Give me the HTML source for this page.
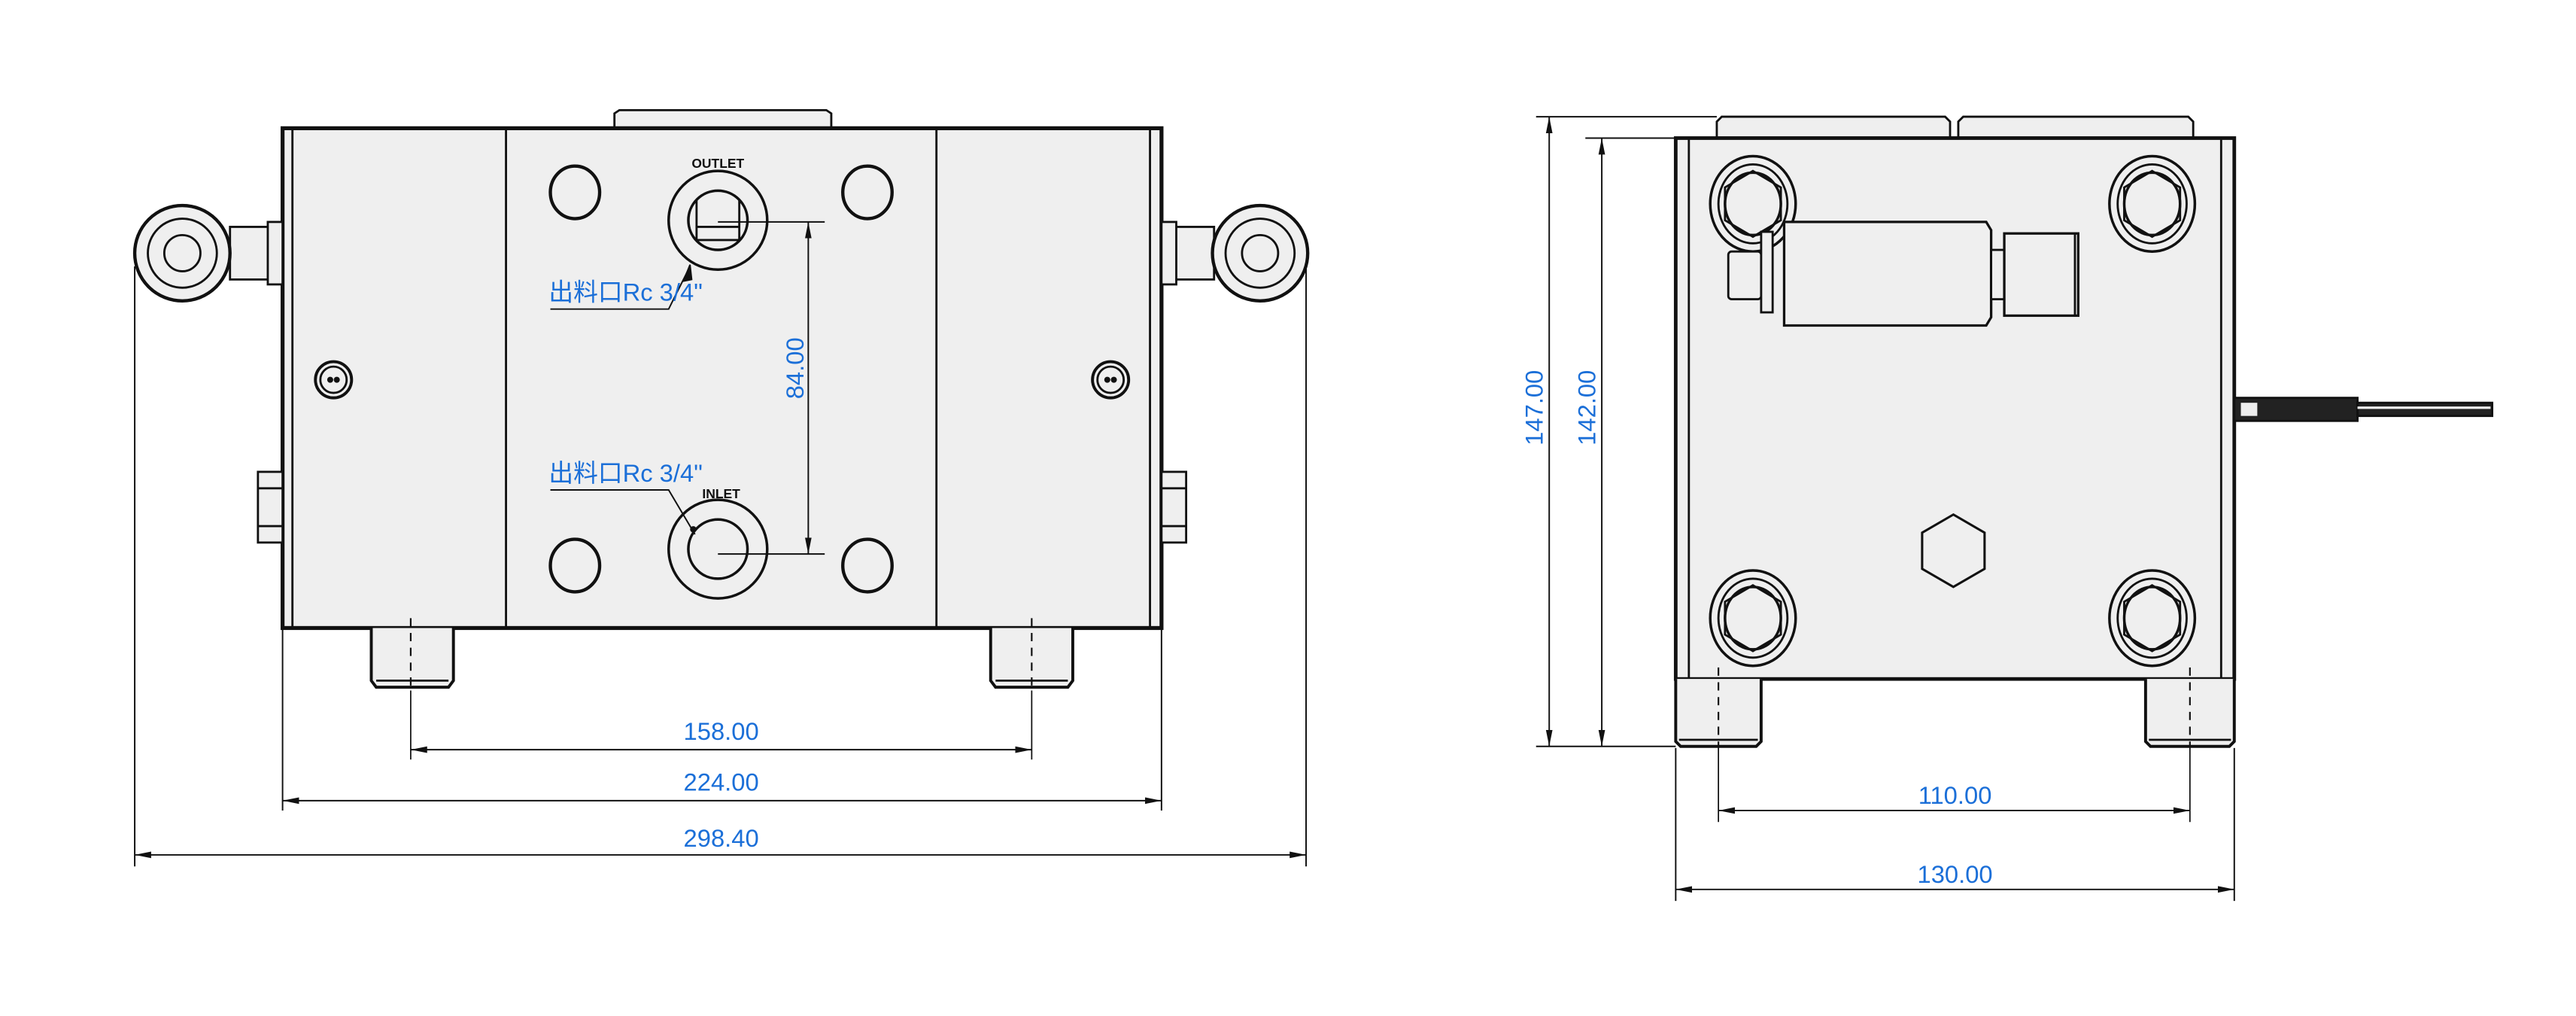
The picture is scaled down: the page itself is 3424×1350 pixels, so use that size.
<!DOCTYPE html>
<html><head><meta charset="utf-8"><style>
html,body{margin:0;padding:0;background:#fff;}
svg{display:block;}
.t{font-family:"Liberation Sans","Noto Sans CJK SC",sans-serif;fill:#1b6fd8;font-size:15px;}
</style></head><body>
<svg width="3424" height="1350" viewBox="0 0 1568 618" preserveAspectRatio="none" xmlns="http://www.w3.org/2000/svg">
<defs>
<marker id="a" viewBox="0 0 10 6" refX="10" refY="3" markerWidth="10" markerHeight="6" orient="auto-start-reverse" markerUnits="userSpaceOnUse"><path d="M0,1 L10,3 L0,5 z" fill="#111"/></marker>
<g id="bolt">
<ellipse cx="0" cy="0" rx="26" ry="29" stroke-width="1.6"/><ellipse cx="0" cy="0" rx="21" ry="24"/>
<polygon points="0,-20 17,-10 17,10 0,20 -17,10 -17,-10"/><ellipse cx="0" cy="0" rx="17" ry="19" stroke-width="1.6"/>
</g>
</defs>
<rect width="1568" height="618" fill="#fff"/>
<g stroke="#111" fill="none" stroke-width="1.3">
<path d="M374,78 L374,69 L377,67 L503,67 L506,69 L506,78" fill="#efefef"/>
<rect x="172" y="78" width="535" height="304" fill="#efefef" stroke-width="2.4"/>
<line x1="178" y1="79" x2="178" y2="381"/><line x1="700" y1="79" x2="700" y2="381"/>
<line x1="308" y1="79" x2="308" y2="381"/><line x1="570" y1="79" x2="570" y2="381"/>
<rect x="140" y="138" width="24" height="32" fill="#efefef"/><rect x="163" y="135" width="9" height="38" fill="#efefef"/>
<circle cx="111" cy="154" r="29" fill="#efefef" stroke-width="2"/><circle cx="111" cy="154" r="21"/><circle cx="111" cy="154" r="11"/>
<rect x="715" y="138" width="24" height="32" fill="#efefef"/><rect x="707" y="135" width="9" height="38" fill="#efefef"/>
<circle cx="767" cy="154" r="29" fill="#efefef" stroke-width="2"/><circle cx="767" cy="154" r="21"/><circle cx="767" cy="154" r="11"/>
<rect x="157" y="287" width="15" height="43" fill="#efefef"/><line x1="157" y1="297" x2="172" y2="297"/><line x1="157" y1="320" x2="172" y2="320"/>
<rect x="707" y="287" width="15" height="43" fill="#efefef"/><line x1="707" y1="297" x2="722" y2="297"/><line x1="707" y1="320" x2="722" y2="320"/>
<circle cx="203" cy="231" r="11" stroke-width="1.8"/><circle cx="203" cy="231" r="8"/><circle cx="201" cy="231" r="1.2" fill="#111"/><circle cx="205" cy="231" r="1.2" fill="#111"/>
<circle cx="676" cy="231" r="11" stroke-width="1.8"/><circle cx="676" cy="231" r="8"/><circle cx="674" cy="231" r="1.2" fill="#111"/><circle cx="678" cy="231" r="1.2" fill="#111"/>
<ellipse cx="350" cy="117" rx="15" ry="16" stroke-width="2"/><ellipse cx="528" cy="117" rx="15" ry="16" stroke-width="2"/>
<ellipse cx="350" cy="344" rx="15" ry="16" stroke-width="2"/><ellipse cx="528" cy="344" rx="15" ry="16" stroke-width="2"/>
<circle cx="437" cy="134" r="30" stroke-width="1.6"/><circle cx="437" cy="134" r="18" stroke-width="1.6"/>
<line x1="424" y1="138" x2="450" y2="138"/><line x1="424" y1="146" x2="450" y2="146"/><line x1="424" y1="122" x2="424" y2="146"/><line x1="450" y1="122" x2="450" y2="146"/>
<circle cx="437" cy="334" r="30" stroke-width="1.6"/><circle cx="437" cy="334" r="18" stroke-width="1.6"/>
<path d="M226,382 L226,414 L229,418 L273,418 L276,414 L276,382" fill="#efefef" stroke-width="1.8"/><line x1="229" y1="414" x2="273" y2="414"/>
<path d="M603,382 L603,414 L606,418 L650,418 L653,414 L653,382" fill="#efefef" stroke-width="1.8"/><line x1="606" y1="414" x2="650" y2="414"/>
<line x1="250" y1="376" x2="250" y2="420" stroke-dasharray="5,4" stroke-width="1"/><line x1="250" y1="420" x2="250" y2="462" stroke-width="0.8"/>
<line x1="628" y1="376" x2="628" y2="420" stroke-dasharray="5,4" stroke-width="1"/><line x1="628" y1="420" x2="628" y2="462" stroke-width="0.8"/>
<g stroke-width="0.9">
<line x1="437" y1="135" x2="502" y2="135"/><line x1="437" y1="337" x2="502" y2="337"/>
<line x1="492" y1="135" x2="492" y2="337" marker-start="url(#a)" marker-end="url(#a)"/>
<line x1="250" y1="456" x2="628" y2="456" marker-start="url(#a)" marker-end="url(#a)"/>
<line x1="172" y1="383" x2="172" y2="493"/><line x1="707" y1="383" x2="707" y2="493"/>
<line x1="172" y1="487" x2="707" y2="487" marker-start="url(#a)" marker-end="url(#a)"/>
<line x1="82" y1="162" x2="82" y2="527"/><line x1="795" y1="162" x2="795" y2="527"/>
<line x1="82" y1="520" x2="795" y2="520" marker-start="url(#a)" marker-end="url(#a)"/>
<polyline points="335,188 407,188 420,162"/><path d="M420,161 L416,171 L421,170 z" fill="#111"/>
<polyline points="335,298 407,298 423,325"/><circle cx="422" cy="322" r="1.5" fill="#111"/>
</g>
<path d="M1045,84 L1045,74 L1048,71 L1184,71 L1187,74 L1187,84" fill="#efefef"/>
<path d="M1192,84 L1192,74 L1195,71 L1332,71 L1335,74 L1335,84" fill="#efefef"/>
<rect x="1020" y="84" width="340" height="329" fill="#efefef" stroke-width="2.2"/>
<line x1="1028" y1="85" x2="1028" y2="412"/><line x1="1352" y1="85" x2="1352" y2="412"/>
<use href="#bolt" x="1067" y="124"/><use href="#bolt" x="1310" y="124"/>
<use href="#bolt" x="1067" y="376"/><use href="#bolt" x="1310" y="376"/>
<rect x="1052" y="153" width="20" height="29" rx="2" fill="#efefef"/>
<rect x="1072" y="141" width="7" height="49" fill="#efefef"/>
<path d="M1086,135 L1209,135 L1212,140 L1212,193 L1209,198 L1086,198 z" fill="#efefef" stroke-width="1.5"/>
<rect x="1212" y="152" width="8" height="30" fill="#efefef"/>
<rect x="1220" y="142" width="45" height="50" fill="#efefef" stroke-width="1.5"/><line x1="1263" y1="142" x2="1263" y2="192"/>
<polygon points="1189,313 1208,324 1208,346 1189,357 1170,346 1170,324" stroke-width="1.4"/>
<rect x="1360" y="242" width="75" height="14" fill="#222"/>
<rect x="1364" y="245" width="10" height="8" fill="#eee" stroke="none"/>
<rect x="1435" y="245" width="82" height="8" fill="#222"/>
<line x1="1435" y1="248" x2="1516" y2="248" stroke="#eee" stroke-width="1.5"/>
<path d="M1020,413 L1020,451 L1023,454 L1069,454 L1072,451 L1072,413" fill="#efefef" stroke-width="1.8"/><line x1="1022" y1="450" x2="1070" y2="450"/>
<path d="M1306,413 L1306,451 L1309,454 L1357,454 L1360,451 L1360,413" fill="#efefef" stroke-width="1.8"/><line x1="1308" y1="450" x2="1358" y2="450"/>
<line x1="1046" y1="406" x2="1046" y2="454" stroke-dasharray="5,4" stroke-width="1"/><line x1="1046" y1="454" x2="1046" y2="500" stroke-width="0.8"/>
<line x1="1333" y1="406" x2="1333" y2="454" stroke-dasharray="5,4" stroke-width="1"/><line x1="1333" y1="454" x2="1333" y2="500" stroke-width="0.8"/>
<g stroke-width="0.9">
<line x1="935" y1="71" x2="1045" y2="71"/><line x1="965" y1="84" x2="1020" y2="84"/><line x1="935" y1="454" x2="1020" y2="454"/>
<line x1="943" y1="71" x2="943" y2="454" marker-start="url(#a)" marker-end="url(#a)"/>
<line x1="975" y1="84" x2="975" y2="454" marker-start="url(#a)" marker-end="url(#a)"/>
<line x1="1046" y1="493" x2="1333" y2="493" marker-start="url(#a)" marker-end="url(#a)"/>
<line x1="1020" y1="455" x2="1020" y2="548"/><line x1="1360" y1="455" x2="1360" y2="548"/>
<line x1="1020" y1="541" x2="1360" y2="541" marker-start="url(#a)" marker-end="url(#a)"/>
</g>
</g>
<text x="437" y="102" text-anchor="middle" font-family="Liberation Sans Narrow,Liberation Sans,sans-serif" font-weight="bold" font-size="8" fill="#111">OUTLET</text>
<text x="439" y="303" text-anchor="middle" font-family="Liberation Sans Narrow,Liberation Sans,sans-serif" font-weight="bold" font-size="8" fill="#111">INLET</text>
<text class="t" x="334" y="183" font-size="14">出料口Rc 3/4"</text>
<text class="t" x="334" y="293" font-size="14">出料口Rc 3/4"</text>
<text class="t" x="0" y="0" text-anchor="middle" transform="translate(489,224) rotate(-90)">84.00</text>
<text class="t" x="439" y="450" text-anchor="middle">158.00</text>
<text class="t" x="439" y="481" text-anchor="middle">224.00</text>
<text class="t" x="439" y="515" text-anchor="middle">298.40</text>
<text class="t" x="0" y="0" text-anchor="middle" transform="translate(939,248) rotate(-90)">147.00</text>
<text class="t" x="0" y="0" text-anchor="middle" transform="translate(971,248) rotate(-90)">142.00</text>
<text class="t" x="1190" y="489" text-anchor="middle">110.00</text>
<text class="t" x="1190" y="537" text-anchor="middle">130.00</text>
</svg>
</body></html>
